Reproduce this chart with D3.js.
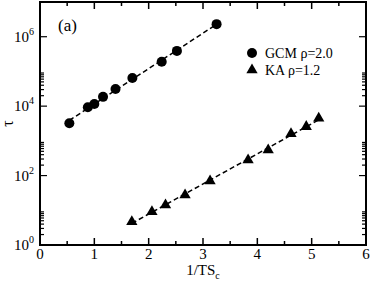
<!DOCTYPE html>
<html>
<head>
<meta charset="utf-8">
<script src="https://cdn.jsdelivr.net/npm/d3@7"></script>
<style>
  body { margin: 0; background: #fff; }
  text { font-family: "Liberation Serif", "DejaVu Serif", serif; fill: #000; }
</style>
</head>
<body>
<script>
// data
var gcmX = [0.54, 0.88, 1.0, 1.16, 1.39, 1.70, 2.24, 2.52, 3.25];
var gcmTau = [3200, 9300, 11500, 18500, 31000, 65000, 190000, 390000, 2300000];
var kaX = [1.69, 2.06, 2.31, 2.67, 3.13, 3.83, 4.20, 4.62, 4.90, 5.13];
var kaTau = [4.7, 9.1, 14.2, 27.6, 70, 282, 548, 1590, 2570, 4470];
var xTicks = [0, 1, 2, 3, 4, 5, 6];
var yTickExp = [0, 2, 4, 6];
var legendLabels = ["GCM \u03c1=2.0", "KA \u03c1=1.2"];

var width = 374, height = 283;
var mLeft = 40, mRight = 366, mTop = 2, mBottom = 245;

var svg = d3.select("body").append("svg")
  .attr("width", width)
  .attr("height", height);

var x = d3.scaleLinear().domain([0, 6]).range([mLeft, mRight]);
var y = d3.scaleLog().domain([1, 1e7]).range([mBottom, mTop]);

// minor ticks
var xMinor = d3.range(0.5, 6, 1);
var yMinor = [];
yTickExp.slice(0, 3).forEach(function (e) {
  for (var k = 2; k <= 9; k++) yMinor.push(k * Math.pow(10, e));
});

var g = svg.append("g");

// x ticks bottom & top
function xTicksAt(vals, len) {
  vals.forEach(function (v) {
    g.append("line").attr("x1", x(v)).attr("x2", x(v))
      .attr("y1", mBottom).attr("y2", mBottom - len)
      .attr("stroke", "#000").attr("stroke-width", 1.5);
    g.append("line").attr("x1", x(v)).attr("x2", x(v))
      .attr("y1", mTop).attr("y2", mTop + len)
      .attr("stroke", "#000").attr("stroke-width", 1.5);
  });
}
xTicksAt(xTicks, 7);
xTicksAt(xMinor, 4);

function yTicksAt(vals, len) {
  vals.forEach(function (v) {
    g.append("line").attr("x1", mLeft).attr("x2", mLeft + len)
      .attr("y1", y(v)).attr("y2", y(v))
      .attr("stroke", "#000").attr("stroke-width", 1.2);
    g.append("line").attr("x1", mRight).attr("x2", mRight - len)
      .attr("y1", y(v)).attr("y2", y(v))
      .attr("stroke", "#000").attr("stroke-width", 1.2);
  });
}
yTicksAt(yTickExp.map(function (e) { return Math.pow(10, e); }), 7);
yTicksAt(yMinor, 4);

// frame
g.append("rect")
  .attr("x", mLeft).attr("y", mTop)
  .attr("width", mRight - mLeft).attr("height", mBottom - mTop)
  .attr("fill", "none").attr("stroke", "#000").attr("stroke-width", 2);

// tick labels
svg.selectAll(".xl").data(xTicks).enter().append("text")
  .attr("x", function (d) { return x(d); })
  .attr("y", 259)
  .attr("text-anchor", "middle")
  .style("font-size", "15px")
  .text(function (d) { return d; });

var yl = svg.selectAll(".yl").data(yTickExp).enter().append("text")
  .attr("x", mLeft - 6)
  .attr("y", function (d) { return y(Math.pow(10, d)) + 5; })
  .attr("text-anchor", "end")
  .style("font-size", "15px");
yl.append("tspan").text("10");
yl.append("tspan").attr("dy", -7).style("font-size", "10px")
  .text(function (d) { return d; });

// axis titles
var xt = svg.append("text")
  .attr("x", (mLeft + mRight) / 2)
  .attr("y", 275)
  .attr("text-anchor", "middle")
  .style("font-size", "15px");
xt.append("tspan").text("1/TS");
xt.append("tspan").attr("dy", 4).style("font-size", "10px").text("c");

svg.append("text")
  .attr("transform", "translate(13," + ((mTop + mBottom) / 2) + ") rotate(-90)")
  .attr("text-anchor", "middle")
  .style("font-size", "16px")
  .text("\u03c4");

svg.append("text").attr("x", 58).attr("y", 31)
  .style("font-size", "17px").text("(a)");

// fit lines (least squares in log space)
function fit(xs, ts) {
  var ls = ts.map(function (t) { return Math.log10(t); });
  var mx = d3.mean(xs), my = d3.mean(ls);
  var sxy = d3.sum(xs, function (v, i) { return (v - mx) * (ls[i] - my); });
  var sxx = d3.sum(xs, function (v) { return (v - mx) * (v - mx); });
  var b = sxy / sxx, a = my - b * mx;
  var x0 = d3.min(xs), x1 = d3.max(xs);
  return [[x0, Math.pow(10, a + b * x0)], [x1, Math.pow(10, a + b * x1)]];
}
var line = d3.line()
  .x(function (d) { return x(d[0]); })
  .y(function (d) { return y(d[1]); });

[fit(gcmX, gcmTau), fit(kaX, kaTau)].forEach(function (pts) {
  svg.append("path").attr("d", line(pts))
    .attr("fill", "none").attr("stroke", "#000")
    .attr("stroke-width", 1.5).attr("stroke-dasharray", "5,3");
});

// markers
svg.selectAll(".gcm").data(gcmX).enter().append("circle")
  .attr("cx", function (d) { return x(d); })
  .attr("cy", function (d, i) { return y(gcmTau[i]); })
  .attr("r", 5).attr("fill", "#000");

var tri = d3.symbol().type(d3.symbolTriangle).size(55);
svg.selectAll(".ka").data(kaX).enter().append("path")
  .attr("d", tri)
  .attr("transform", function (d, i) {
    return "translate(" + x(d) + "," + y(kaTau[i]) + ")";
  })
  .attr("fill", "#000");

// legend
var leg = svg.append("g").attr("transform", "translate(252,53)");
leg.append("circle").attr("cx", 0).attr("cy", 0).attr("r", 5).attr("fill", "#000");
leg.append("path").attr("d", tri).attr("transform", "translate(0,17)").attr("fill", "#000");
leg.selectAll("text").data(legendLabels).enter().append("text")
  .attr("x", 13)
  .attr("y", function (d, i) { return 5 + i * 17; })
  .style("font-size", "14px")
  .text(function (d) { return d; });
</script>
</body>
</html>
